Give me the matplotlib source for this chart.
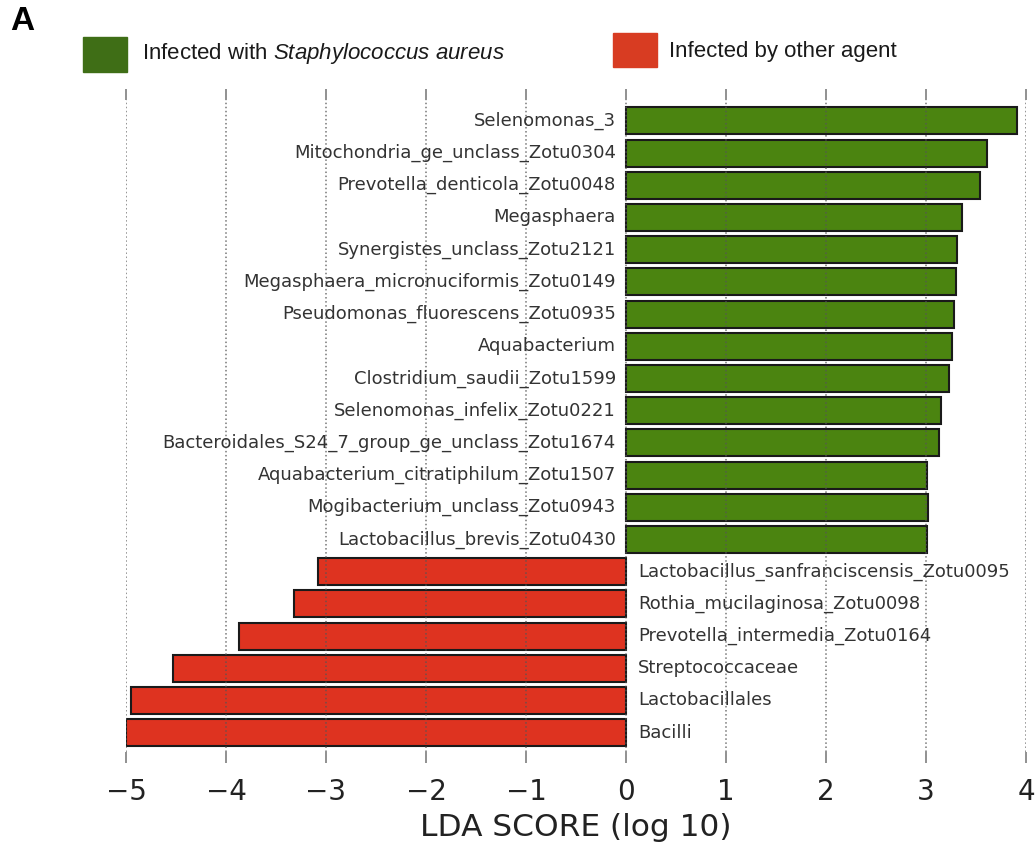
import matplotlib.pyplot as plt
from matplotlib.patches import Rectangle

plt.rcParams['mathtext.fontset'] = 'custom'
plt.rcParams['mathtext.rm'] = 'Liberation Sans'
plt.rcParams['mathtext.it'] = 'Liberation Sans:italic'

# features, top to bottom
green_names = ["Selenomonas_3", "Mitochondria_ge_unclass_Zotu0304",
               "Prevotella_denticola_Zotu0048", "Megasphaera",
               "Synergistes_unclass_Zotu2121", "Megasphaera_micronuciformis_Zotu0149",
               "Pseudomonas_fluorescens_Zotu0935", "Aquabacterium",
               "Clostridium_saudii_Zotu1599", "Selenomonas_infelix_Zotu0221",
               "Bacteroidales_S24_7_group_ge_unclass_Zotu1674",
               "Aquabacterium_citratiphilum_Zotu1507",
               "Mogibacterium_unclass_Zotu0943", "Lactobacillus_brevis_Zotu0430"]
green_lda = [3.91, 3.61, 3.54, 3.36, 3.31, 3.30, 3.28, 3.26, 3.23, 3.15,
             3.13, 3.01, 3.02, 3.01]

red_names = ["Lactobacillus_sanfranciscensis_Zotu0095",
             "Rothia_mucilaginosa_Zotu0098", "Prevotella_intermedia_Zotu0164",
             "Streptococcaceae", "Lactobacillales", "Bacilli"]
red_lda = [-3.08, -3.32, -3.87, -4.53, -4.95, -5.0]

legend_labels = ["Infected with $\\it{Staphylococcus\\ aureus}$",
                 "Infected by other agent"]

green = "#4b8410"
red = "#de3320"
green_leg = "#3f6e16"
red_leg = "#d83c22"

names = green_names + red_names
vals = green_lda + red_lda
cols = [green] * len(green_names) + [red] * len(red_names)
n = len(names)
ypos = [n - 1 - i for i in range(n)]

fig = plt.figure(figsize=(10.35, 8.5), dpi=100)
ax = fig.add_axes([0.1217, 0.1153, 0.8696, 0.7671])

ax.barh(ypos, vals, height=0.84, color=cols, edgecolor="#1a1a1a",
        linewidth=1.5, zorder=1)

for y, v, name in zip(ypos, vals, names):
    if v > 0:
        ax.text(-0.1, y, name, ha="right", va="center", fontsize=13,
                color="#333333", zorder=3)
    else:
        ax.text(0.12, y, name, ha="left", va="center", fontsize=13,
                color="#333333", zorder=3)

ax.set_xlim(-5.0, 4.0)
ax.set_ylim(-0.6, n - 1 + 0.65)
ax.set_xticks(range(-5, 5))
ax.set_yticks([])
ax.grid(axis="x", linestyle=":", color="#555555", linewidth=1.1, alpha=0.8,
        zorder=2)
ax.set_axisbelow(False)
for s in ax.spines.values():
    s.set_visible(False)
ax.tick_params(axis="x", which="both", top=True, bottom=True, direction="out",
               length=8, width=1.3, color="#888888", labelsize=20,
               labelcolor="#222222", pad=11)
ax.set_xlabel("LDA SCORE (log 10)", fontsize=22.5, color="#222222", labelpad=5)

# legend boxes along the top
fig.add_artist(Rectangle((83 / 1035, 1 - 72 / 850), 44 / 1035, 35 / 850,
                         transform=fig.transFigure, color=green_leg))
fig.add_artist(Rectangle((613 / 1035, 1 - 67 / 850), 44 / 1035, 34 / 850,
                         transform=fig.transFigure, color=red_leg))
fig.text(142 / 1035, 1 - 54 / 850, legend_labels[0], fontsize=16,
         family="Liberation Sans", va="center", ha="left", color="#1a1a1a")
fig.text(669 / 1035, 1 - 52 / 850, legend_labels[1], fontsize=16,
         family="Liberation Sans", va="center", ha="left", color="#1a1a1a")
fig.text(10 / 1035, 1 - 22 / 850, "A", fontsize=24, fontweight="bold",
         family="Liberation Sans", va="center", ha="left", color="black")

fig.savefig("out.png", dpi=100)
